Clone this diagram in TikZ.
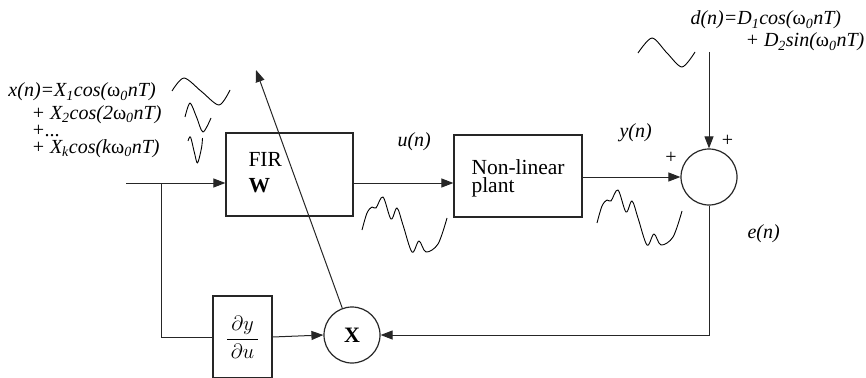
\documentclass[tikz,border=0pt]{standalone}
\usepackage{fontspec}
\setmainfont{Liberation Serif}
\usetikzlibrary{arrows.meta}

\newcommand{\wzero}{{\upshape ω}\textsubscript{0}}

\begin{document}
\begin{tikzpicture}[
    x=1pt, y=-1pt,
    line width=1pt, draw=black!85,
    >={Triangle[length=12pt,width=9pt]},
    block/.style={draw, line width=1.2pt, minimum width=127pt, minimum height=83pt},
    junction/.style={draw, circle, line width=1.2pt, minimum size=56pt, inner sep=0pt},
    wave/.style={line width=0.9pt, line join=round, black},
    lbl/.style={font=\fontsize{20}{20}\selectfont\itshape, inner sep=0pt, anchor=base west},
    boxtext/.style={font=\fontsize{21.5}{21.5}\selectfont, inner sep=0pt, anchor=base west},
    sign/.style={font=\fontsize{20}{20}\selectfont, inner sep=0pt},
  ]
    \useasboundingbox (0,0) rectangle (866,377);

    % Blocks
    \node[block] (fir) at (289.5,174.5) {};
    \node[block, minimum width=128pt, minimum height=82pt] (plant) at (518,176) {};
    \node[junction] (sum) at (709,177) {};
    \node[junction, font=\fontsize{22}{22}\selectfont\bfseries] (mult) at (352,335) {X};
    \node[block, minimum width=59pt, minimum height=82pt,
          font=\fontsize{21}{25}\selectfont] (deriv) at (242.5,337)
          {$\displaystyle\frac{\,\partial y\,}{\,\partial u\,}$};

    % Block texts
    \node[boxtext] (firname) at (248,166) {FIR};
    \node[boxtext] (firw) at (248,192) {\bfseries W};
    \node[boxtext] (plantname) at (471,174) {Non-linear};
    \node[boxtext] (plantname2) at (471,192) {plant};

    % Signal labels
    \node[lbl] (xline1) at (8,97) {x(n)=X\textsubscript{1}cos(\wzero{}nT)};
    \node[lbl] (xline2) at (31,119) {+ X\textsubscript{2}cos(2\wzero{}nT)};
    \node[lbl] (xline3) at (31,136) {+...};
    \node[lbl] (xline4) at (31,153) {+ X\textsubscript{k}cos(k\wzero{}nT)};
    \node[lbl] (dline1) at (690,25) {d(n)=D\textsubscript{1}cos(\wzero{}nT)};
    \node[lbl] (dline2) at (745,47) {+ D\textsubscript{2}sin(\wzero{}nT)};
    \node[lbl] (ulabel) at (397,146) {u(n)};
    \node[lbl] (ylabel) at (619,137) {y(n)};
    \node[lbl] (elabel) at (747,238) {e(n)};
    \node[sign] (plusd) at (727.5,141) {+};
    \node[sign] (plusy) at (671,157.5) {+};

    % Connectors
    \coordinate (xin) at (126,183);
    \coordinate (tap) at (161,183);
    \coordinate (dtop) at (709,52);
    \coordinate (wtip) at (256,70);
    \draw[->] (xin) -- (xin -| fir.west);
    \draw[->] (xin -| fir.east) -- (xin -| plant.west);
    \draw[->] (plant.east |- sum.west) -- (sum.west);
    \draw[->] (dtop) -- (sum.north);
    \draw[->] (sum.south) |- (mult.east);
    \draw (tap) |- (deriv.west);
    \draw[->] (deriv.east) -- (mult.west);
    \draw[->] (mult) -- (wtip);

    % Waveforms
    \draw[wave] plot[smooth] coordinates {(172,91) (184,78) (201.5,91.5) (219,105) (230,90)};
    \draw[wave] plot[smooth] coordinates {(185,117) (190,103) (196.5,117) (203,132) (211,118)};
    \draw[wave] plot[smooth] coordinates {(188,141) (190.5,137) (194.5,153) (197.5,163) (201.5,148) (202.5,138)};
    \draw[wave] plot[smooth] coordinates {(638,53) (652,38) (667,53) (682,67) (695,52)};
    \foreach \sx/\sy in {362/230, 597/223} {
      \draw[wave, shift={(\sx,\sy)}] plot[smooth, tension=0.55] coordinates {(0,0) (5,-17) (10,-23) (14,-22) (21,-33)
        (29,-11) (35,-22) (41,-5) (50,22) (57,11) (64,22) (76,14) (85,-12)};
    }
  \end{tikzpicture}
\end{document}
